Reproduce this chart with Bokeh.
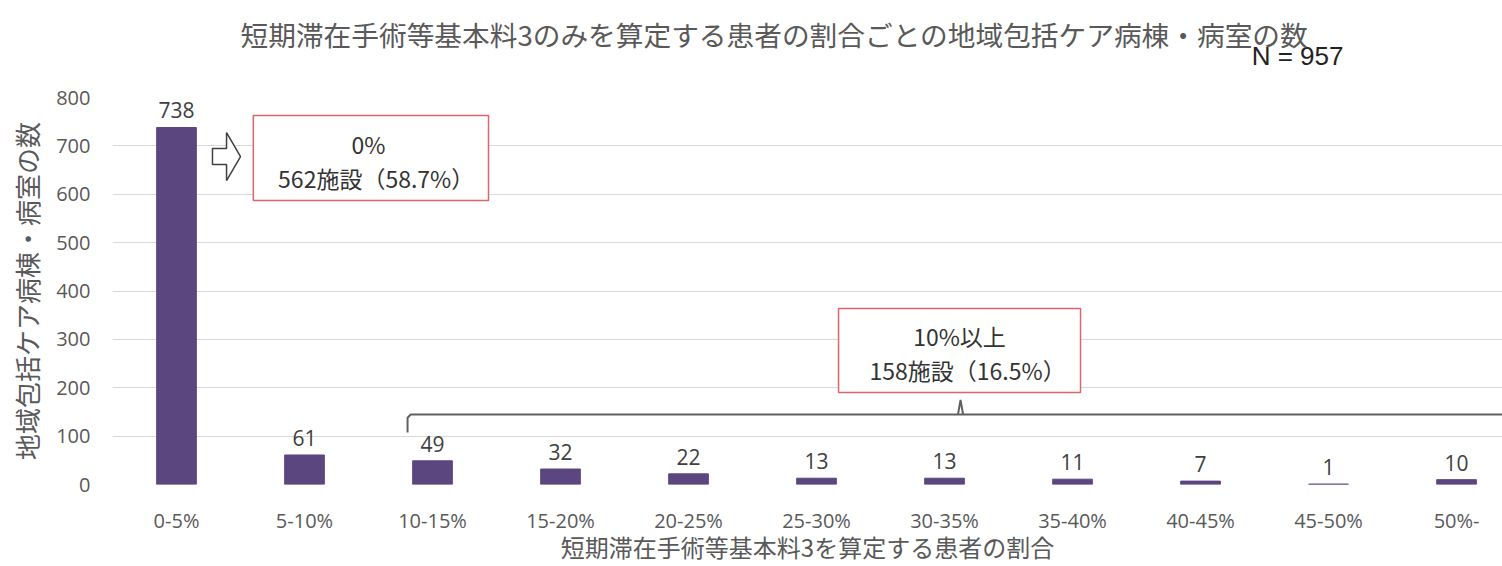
from bokeh.plotting import figure
from bokeh.models import Range1d, FixedTicker, Title
from bokeh.core.properties import value
from bokeh.embed import file_html
from bokeh.resources import INLINE

# ---- data ----
categories = ["0-5%", "5-10%", "10-15%", "15-20%", "20-25%", "25-30%",
              "30-35%", "35-40%", "40-45%", "45-50%", "50%-"]
counts = [738, 61, 49, 32, 22, 13, 13, 11, 7, 1, 10]
y_ticks = [0, 100, 200, 300, 400, 500, 600, 700, 800]
title_text = "短期滞在手術等基本料3のみを算定する患者の割合ごとの地域包括ケア病棟・病室の数"
n_text = "N = 957"
x_label = "短期滞在手術等基本料3を算定する患者の割合"
y_label = "地域包括ケア病棟・病室の数"
box1_lines = ["0%", "562施設（58.7%）"]
box2_lines = ["10%以上", "158施設（16.5%）"]

JP = "Noto Sans CJK JP"
NUM = "Open Sans"
GRAY = "#595959"
BAR = "#5b4680"
RED = "#e0646c"

xs = list(range(len(categories)))

p = figure(width=1502, height=566, output_backend="svg", toolbar_location=None,
           title=None,
           x_range=Range1d(-0.5, 10.359), y_range=Range1d(0, 800),
           min_border_left=112, min_border_right=0,
           min_border_top=97, min_border_bottom=82)
p.outline_line_color = None
p.background_fill_color = "white"

# titles (N line nearest the plot, main title above it)
n_title = Title(text=n_text, align="right", offset=159, vertical_align="bottom",
                text_font_size="26px", text_font="Liberation Sans",
                text_font_style="normal", text_color="#222222", standoff=54)
p.add_layout(n_title, "above")
main_title = Title(text=title_text, align="left", offset=128, vertical_align="bottom",
                   text_font_size="27.7px", text_font=JP,
                   text_font_style="normal", text_color=GRAY, standoff=-84)
p.add_layout(main_title, "above")

# axes
p.xgrid.visible = False
p.ygrid.grid_line_color = "#d9d9d9"
p.ygrid.grid_line_width = 1

p.yaxis.ticker = FixedTicker(ticks=y_ticks)
p.yaxis.axis_line_color = None
p.yaxis.major_tick_line_color = None
p.yaxis.major_tick_out = 0
p.yaxis.major_tick_in = 0
p.yaxis.minor_tick_line_color = None
p.yaxis.major_label_standoff = 22
p.yaxis.major_label_text_font = NUM
p.yaxis.major_label_text_font_size = "20px"
p.yaxis.major_label_text_color = GRAY
p.yaxis.axis_label = y_label
p.yaxis.axis_label_text_font = JP
p.yaxis.axis_label_text_font_size = "26px"
p.yaxis.axis_label_text_font_style = "normal"
p.yaxis.axis_label_text_color = GRAY
p.yaxis.axis_label_standoff = 8

p.xaxis.ticker = FixedTicker(ticks=xs)
p.xaxis.major_label_overrides = {i: c for i, c in enumerate(categories)}
p.xaxis.axis_line_color = None
p.xaxis.major_tick_line_color = None
p.xaxis.major_tick_out = 0
p.xaxis.major_tick_in = 0
p.xaxis.minor_tick_line_color = None
p.xaxis.major_label_standoff = 22
p.xaxis.major_label_text_font = NUM
p.xaxis.major_label_text_font_size = "20px"
p.xaxis.major_label_text_color = GRAY
p.xaxis.axis_label = x_label
p.xaxis.axis_label_text_font = JP
p.xaxis.axis_label_text_font_size = "24px"
p.xaxis.axis_label_text_font_style = "normal"
p.xaxis.axis_label_text_color = GRAY
p.xaxis.axis_label_standoff = -8

# bars
p.vbar(x=xs, top=counts, width=0.31, fill_color=BAR, line_color=BAR)
p.text(x=xs, y=counts, text=[str(c) for c in counts],
       text_align="center", text_baseline="bottom", y_offset=-9,
       text_font=value(NUM), text_font_size="21px", text_color="#404040")

# annotation 1: arrow + box
ax = [0.281, 0.391, 0.391, 0.5, 0.391, 0.391, 0.281]
ay = [694.6, 694.6, 727.6, 678.0, 628.4, 661.5, 661.5]
p.patch(ax, ay, fill_color="white", line_color="#404040", line_width=1.5)

p.quad(left=[0.60], right=[2.4375], top=[762.8], bottom=[587.1],
       fill_color="white", line_color=RED, line_width=1.5)
p.text(x=[1.5, 1.56], y=[704.9, 632.6], text=box1_lines,
       text_align="center", text_baseline="middle",
       text_font=value(JP), text_font_size="23px", text_color="#333333")

# annotation 2: bracket + box
p.line([1.805, 1.805, 1.83, 10.5], [107.5, 138.0, 144.7, 144.7],
       line_color="#606060", line_width=2)
p.line([6.105, 6.125, 6.145], [144.7, 175.0, 144.7],
       line_color="#606060", line_width=2)
p.quad(left=[5.172], right=[7.0625], top=[363.8], bottom=[190.0],
       fill_color="white", line_color=RED, line_width=1.5)
p.text(x=[6.117, 6.18], y=[308.0, 235.7], text=box2_lines,
       text_align="center", text_baseline="middle",
       text_font=value(JP), text_font_size="23px", text_color="#333333")

open("out.html", "w").write(file_html(p, INLINE))
